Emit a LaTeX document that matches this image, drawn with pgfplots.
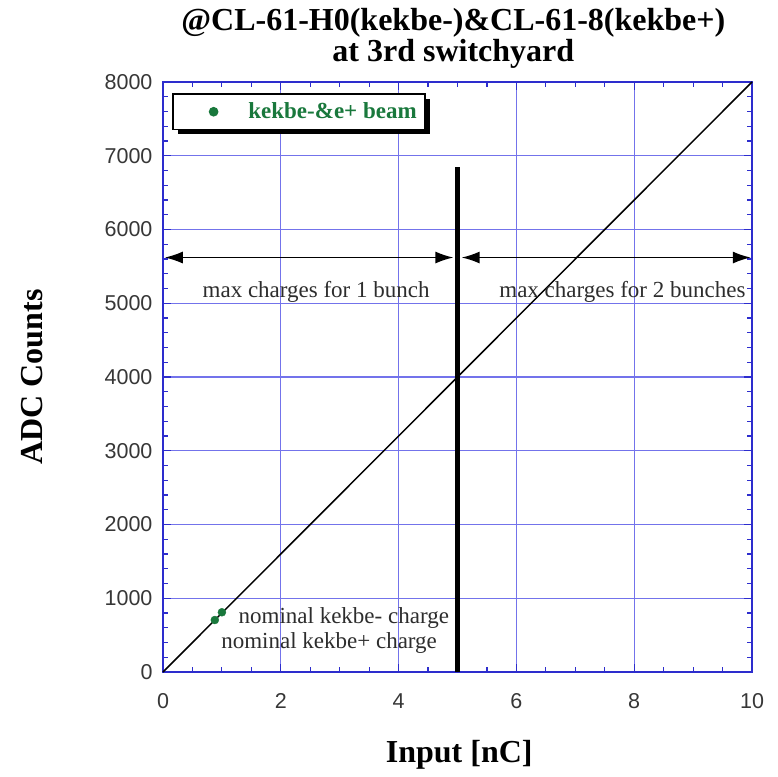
\documentclass[border=0pt]{standalone}
\usepackage{fontspec}
\setmainfont{Liberation Serif}
\setsansfont{Liberation Sans}
\usepackage{pgfplots}
\pgfplotsset{compat=1.18}
\usetikzlibrary{arrows.meta,shadows}
\definecolor{gridblue}{RGB}{115,115,235}
\definecolor{axblue}{RGB}{45,45,205}
\definecolor{dgreen}{RGB}{25,120,60}
\definecolor{tickgray}{RGB}{55,55,55}
\definecolor{txtgray}{RGB}{45,45,45}

\begin{document}
\begin{tikzpicture}
\useasboundingbox (-163pt,-104pt) rectangle (615pt,672pt);
\begin{axis}[
  at={(0pt,0pt)}, anchor=south west,
  scale only axis, width=589pt, height=590pt,
  xmin=0, xmax=10, ymin=0, ymax=8000,
  xtick={0,2,4,6,8,10}, ytick={0,1000,2000,3000,4000,5000,6000,7000,8000},
  minor x tick num=3, minor y tick num=4,
  grid=major, major grid style={gridblue, line width=1.1pt},
  axis line style={axblue, line width=1.6pt},
  tick style={axblue, line width=1.2pt},
  major tick length=8pt, minor tick length=5pt,
  tick align=inside,
  clip=false,
  scaled ticks=false,
  /pgf/number format/assume math mode=true,
  /pgf/number format/set thousands separator={},
  xticklabel style={font=\sffamily\fontsize{21.5}{24}\selectfont, text=tickgray, yshift=-18pt},
  yticklabel style={font=\sffamily\fontsize{21.5}{24}\selectfont, text=tickgray, xshift=-7pt},
  xlabel={Input [nC]},
  ylabel={ADC Counts},
  xlabel style={font=\bfseries\fontsize{32}{36}\selectfont, at={(axis description cs:0.503,-0.141)}, anchor=center},
  ylabel style={font=\bfseries\fontsize{32}{36}\selectfont, at={(axis description cs:-0.222,0.5)}, anchor=center},
  legend style={at={(axis description cs:0.0153,0.981)}, anchor=north west,
    draw=black, line width=1.6pt, fill=white,
    drop shadow={shadow xshift=5pt, shadow yshift=-5pt, fill=black, opacity=1},
    inner xsep=6pt, inner ysep=7pt,
    font=\bfseries\fontsize{23}{26}\selectfont, text=dgreen},
  legend cell align=left,
  legend image code/.code={\path (0pt,0pt) (66pt,0pt); \draw[#1] plot coordinates {(34pt,0pt)};},
]
\addplot[black, line width=1.5pt, forget plot] coordinates {(0,0) (10,8000)};
\addplot[black, line width=4.5pt, forget plot] coordinates {(5,0) (5,6850)};
\addplot[black, line width=1.5pt, {Latex[length=18pt,width=12pt]}-{Latex[length=18pt,width=12pt]}, forget plot] coordinates {(0.03,5620) (4.93,5620)};
\addplot[black, line width=1.5pt, {Latex[length=18pt,width=12pt]}-{Latex[length=18pt,width=12pt]}, forget plot] coordinates {(5.07,5620) (9.98,5620)};
\addplot[only marks, mark=*, mark size=4pt, draw=dgreen, fill=dgreen] coordinates {(0.88,705) (1.0,810)};
\addlegendentry{kekbe-\&e+ beam}

\node[font=\fontsize{23}{26}\selectfont, text=txtgray] at (axis cs:2.6,5150) {max charges for 1 bunch};
\node[font=\fontsize{23}{26}\selectfont, text=txtgray] at (axis cs:7.8,5150) {max charges for 2 bunches};
\node[font=\fontsize{23}{26}\selectfont, text=txtgray] at (axis cs:3.07,730) {nominal kekbe- charge};
\node[font=\fontsize{23}{26}\selectfont, text=txtgray] at (axis cs:2.82,390) {nominal kekbe+ charge};

\node[font=\bfseries\fontsize{32}{36}\selectfont, anchor=base] at (rel axis cs:0.493,1.088) {@CL-61-H0(kekbe-)\&CL-61-8(kekbe+)};
\node[font=\bfseries\fontsize{32}{36}\selectfont, anchor=base] at (rel axis cs:0.493,1.035) {at 3rd switchyard};
\end{axis}
\end{tikzpicture}
\end{document}
